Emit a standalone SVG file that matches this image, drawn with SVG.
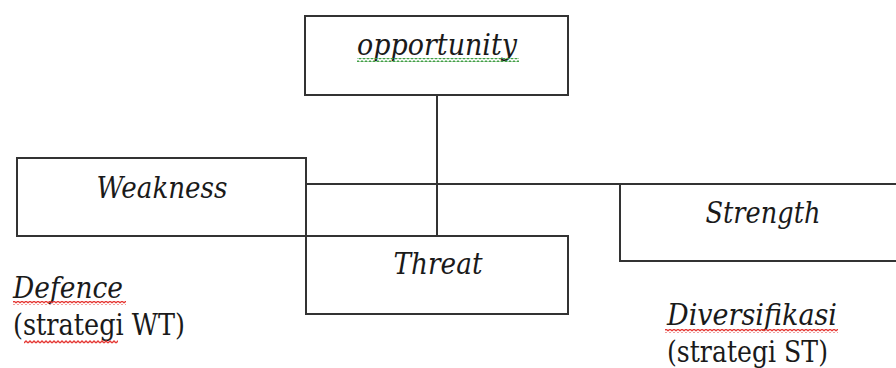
<svg xmlns="http://www.w3.org/2000/svg" width="896" height="368" viewBox="0 0 896 368">
<style>
.box{fill:#fff;stroke:#333;stroke-width:2}
.ln{stroke:#333;stroke-width:2;fill:none}
text{font-family:'DejaVu Serif','Liberation Serif',serif;fill:#1a1a1a}
.it{font-style:italic;font-size:30px}
.up{font-size:29px}
</style>
<defs>
<pattern id="wr" width="4" height="4" patternUnits="userSpaceOnUse"><path d="M0 3 L2 1 L4 3" fill="none" stroke="#e53935" stroke-width="1.3"/></pattern>
<pattern id="wg" width="4" height="4" patternUnits="userSpaceOnUse"><path d="M0 3 L2 1 L4 3" fill="none" stroke="#43a047" stroke-width="1.3"/></pattern>
</defs>
<g id="connectors">
<line class="ln" x1="437" y1="95" x2="437" y2="236"/>
<line class="ln" x1="305" y1="184" x2="620" y2="184"/>
</g>
<g id="weakness">
<rect class="box" x="17" y="158" width="289" height="78"/>
<text class="it" x="162" y="198" text-anchor="middle" textLength="131" lengthAdjust="spacingAndGlyphs">Weakness</text>
</g>
<g id="threat">
<rect class="box" x="306" y="236" width="262" height="78"/>
<text class="it" x="438" y="274" text-anchor="middle" textLength="89" lengthAdjust="spacingAndGlyphs">Threat</text>
</g>
<g id="opportunity">
<rect class="box" x="305" y="16" width="263" height="79"/>
<text class="it" x="437" y="55" text-anchor="middle" textLength="160" lengthAdjust="spacingAndGlyphs">opportunity</text>
<rect x="357" y="58" width="162" height="4" fill="url(#wg)"/>
</g>
<g id="strength">
<rect class="box" x="620" y="184" width="290" height="77"/>
<text class="it" x="763" y="223" text-anchor="middle" textLength="115" lengthAdjust="spacingAndGlyphs">Strength</text>
</g>
<g id="defence">
<text class="it" x="13" y="298" textLength="110" lengthAdjust="spacingAndGlyphs">Defence</text>
<rect x="13" y="301" width="113" height="4" fill="url(#wr)"/>
<text class="up" x="13" y="335" textLength="172" lengthAdjust="spacingAndGlyphs">(strategi WT)</text>
<rect x="24" y="340" width="94" height="4" fill="url(#wr)"/>
</g>
<g id="diversifikasi">
<text class="it" x="667" y="325" textLength="170" lengthAdjust="spacingAndGlyphs">Diversifikasi</text>
<rect x="665" y="329" width="173" height="4" fill="url(#wr)"/>
<text class="up" x="667" y="362" textLength="161" lengthAdjust="spacingAndGlyphs">(strategi ST)</text>
</g>
</svg>
